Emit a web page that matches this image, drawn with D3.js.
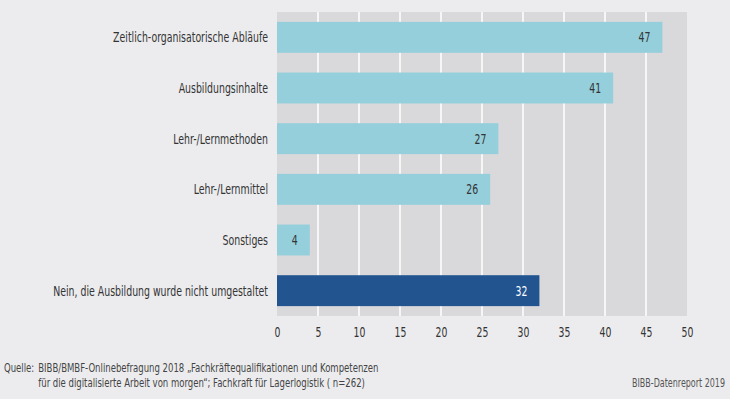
<!DOCTYPE html>
<html>
<head>
<meta charset="utf-8">
<script src="https://cdn.jsdelivr.net/npm/d3@7"></script>
<style>
  html, body { margin: 0; padding: 0; background: #ececee; }
  svg { display: block; font-family: 'DejaVu Sans Condensed', 'DejaVu Sans', sans-serif; }
</style>
</head>
<body>
<div id="vis"></div>
<script>
const categories = [
  'Zeitlich-organisatorische Abläufe',
  'Ausbildungsinhalte',
  'Lehr-/Lernmethoden',
  'Lehr-/Lernmittel',
  'Sonstiges',
  'Nein, die Ausbildung wurde nicht umgestaltet'
];
const values = [47, 41, 27, 26, 4, 32];
const highlighted = [false, false, false, false, false, true];
const tickValues = [0, 5, 10, 15, 20, 25, 30, 35, 40, 45, 50];
const sourcePrefix = 'Quelle:';
const sourceLines = [
  'BIBB/BMBF-Onlinebefragung 2018 „Fachkräftequalifikationen und Kompetenzen',
  'für die digitalisierte Arbeit von morgen“; Fachkraft für Lagerlogistik ( n=262)'
];
const credit = 'BIBB-Datenreport 2019';

const WIDTH = 730;
const HEIGHT = 399;
const PLOT = { left: 277, right: 687, top: 12, bottom: 316 };

// squeeze text horizontally (the original uses a condensed face)
function condense(sel, factor) {
  sel.each(function() {
    const t = d3.select(this);
    const px = +t.attr('x') || 0;
    const py = +t.attr('y') || 0;
    t.attr('x', 0).attr('y', 0)
      .attr('transform', `translate(${px},${py}) scale(${factor},1)`);
  });
}

const svg = d3.select('#vis').append('svg')
  .attr('width', WIDTH)
  .attr('height', HEIGHT);

svg.append('rect')
  .attr('width', WIDTH).attr('height', HEIGHT)
  .attr('fill', '#ececee');

const x = d3.scaleLinear().domain([0, 50]).range([PLOT.left, PLOT.right]);
const y = d3.scaleBand().domain(categories).range([PLOT.top, PLOT.bottom]).paddingInner(0.39).paddingOuter(0.195);

// plot background
svg.append('rect')
  .attr('x', PLOT.left).attr('y', PLOT.top)
  .attr('width', PLOT.right - PLOT.left).attr('height', PLOT.bottom - PLOT.top)
  .attr('fill', '#d9d9db');

// grid lines
svg.append('g')
  .selectAll('line')
  .data(tickValues.filter(d => d > 0 && d < 50))
  .join('line')
  .attr('x1', d => x(d)).attr('x2', d => x(d))
  .attr('y1', PLOT.top).attr('y2', PLOT.bottom)
  .attr('stroke', '#fff')
  .attr('stroke-width', 1.5);

// bars
svg.append('g')
  .selectAll('rect')
  .data(categories)
  .join('rect')
  .attr('x', x(0))
  .attr('y', d => y(d))
  .attr('width', (d, i) => x(values[i]) - x(0))
  .attr('height', y.bandwidth())
  .attr('fill', (d, i) => highlighted[i] ? '#22548f' : '#94cfdb');

// value labels
svg.append('g')
  .selectAll('text')
  .data(categories)
  .join('text')
  .attr('x', (d, i) => x(values[i]) - 12)
  .attr('y', d => y(d) + y.bandwidth() / 2)
  .attr('dy', '0.36em')
  .attr('text-anchor', 'end')
  .style('font-size', '14px')
  .attr('fill', (d, i) => highlighted[i] ? '#fff' : '#333')
  .text((d, i) => values[i])
  .call(condense, 0.74);

// category labels
svg.append('g')
  .selectAll('text')
  .data(categories)
  .join('text')
  .attr('x', PLOT.left - 9)
  .attr('y', d => y(d) + y.bandwidth() / 2)
  .attr('dy', '0.36em')
  .attr('text-anchor', 'end')
  .style('font-size', '14px')
  .attr('fill', '#333')
  .text(d => d)
  .call(condense, 0.745);

// x axis
const xAxis = svg.append('g')
  .attr('transform', `translate(0,${PLOT.bottom})`)
  .call(d3.axisBottom(x).tickValues(tickValues).tickSize(0).tickPadding(11));
xAxis.select('.domain').remove();
xAxis.selectAll('text')
  .style('font-size', '14px')
  .style('font-family', "'DejaVu Sans Condensed', 'DejaVu Sans', sans-serif")
  .attr('fill', '#333')
  .call(condense, 0.74);

// source
const footSize = '12px';
const prefix = svg.append('text')
  .attr('x', 4)
  .attr('y', 372)
  .style('font-size', footSize)
  .attr('fill', '#444')
  .text(sourcePrefix);
const indent = 4 + prefix.node().getComputedTextLength() * 0.79 + 4;
prefix.call(condense, 0.79);

svg.append('g')
  .selectAll('text')
  .data(sourceLines)
  .join('text')
  .attr('x', indent)
  .attr('y', (d, i) => 372 + i * 15)
  .style('font-size', footSize)
  .attr('fill', '#444')
  .text(d => d)
  .call(condense, 0.79);

svg.append('text')
  .attr('x', 725)
  .attr('y', 387)
  .attr('text-anchor', 'end')
  .style('font-size', footSize)
  .attr('fill', '#555')
  .text(credit)
  .call(condense, 0.74);
</script>
</body>
</html>
